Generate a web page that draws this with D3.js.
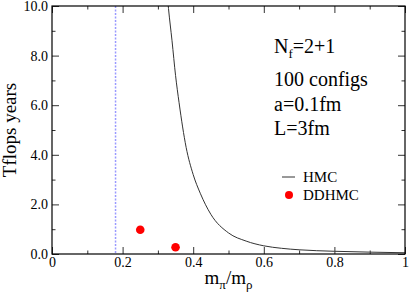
<!DOCTYPE html>
<html>
<head>
    <script src="https://cdn.jsdelivr.net/npm/d3@7"></script>
    <style>
        body { margin: 0; background: #fff; }
        text { font-family: 'Liberation Serif', 'Times New Roman', serif; fill: #000; }
    </style>
</head>
<body>
<div id="vis"></div>
<script>
    /* Data */
    var hmcX = [0.322, 0.33, 0.34, 0.35, 0.36, 0.38, 0.40, 0.42, 0.45, 0.50, 0.55, 0.60, 0.65, 0.70, 0.80, 0.90, 1.00];
    var hmcY = [11.2, 9.9, 8.6, 7.2, 6.1, 4.3, 3.2, 2.45, 1.6, 0.85, 0.52, 0.33, 0.23, 0.17, 0.11, 0.075, 0.05];
    var ddX = [0.25, 0.35];
    var ddY = [0.98, 0.27];
    var physX = 0.18;
    var xMajor = [0, 0.2, 0.4, 0.6, 0.8, 1];
    var xMinor = [0.1, 0.3, 0.5, 0.7, 0.9];
    var xLabels = ["0", "0.2", "0.4", "0.6", "0.8", "1"];
    var yMajor = [0, 2, 4, 6, 8, 10];
    var yMinor = [1, 3, 5, 7, 9];
    var yLabels = ["0.0", "2.0", "4.0", "6.0", "8.0", "10.0"];
    var infoLines = ["100 configs", "a=0.1fm", "L=3fm"];
    var legendNames = ["HMC", "DDHMC"];

    /* Layout */
    var W = 409, H = 297;
    var pL = 52, pR = 405, pT = 6, pB = 254;

    var svg = d3.select("#vis").append("svg")
        .attr("width", W).attr("height", H);

    var x = d3.scaleLinear().domain([0, 1]).range([pL, pR]);
    var y = d3.scaleLinear().domain([0, 10]).range([pB, pT]);

    svg.append("clipPath").attr("id", "clip")
        .append("rect").attr("x", pL).attr("y", pT)
        .attr("width", pR - pL).attr("height", pB - pT);

    // axes: major ticks with labels, minor ticks, mirrored on top/right
    function styleAxis(g) {
        g.attr("font-family", "Liberation Serif").attr("font-size", 14);
        g.select(".domain").remove();
        g.selectAll("line").attr("stroke", "#333").attr("stroke-width", 1);
    }

    svg.append("g").attr("transform", "translate(0," + pB + ")")
        .call(d3.axisBottom(x).tickValues(xMajor).tickSize(-7).tickPadding(3)
            .tickFormat(function (d, i) { return xLabels[i]; }))
        .call(styleAxis);
    svg.append("g").attr("transform", "translate(0," + pB + ")")
        .call(d3.axisBottom(x).tickValues(xMinor).tickSize(-3.5).tickFormat(""))
        .call(styleAxis);
    svg.append("g").attr("transform", "translate(0," + pT + ")")
        .call(d3.axisTop(x).tickValues(xMajor).tickSize(-7).tickFormat(""))
        .call(styleAxis);
    svg.append("g").attr("transform", "translate(0," + pT + ")")
        .call(d3.axisTop(x).tickValues(xMinor).tickSize(-3.5).tickFormat(""))
        .call(styleAxis);

    svg.append("g").attr("transform", "translate(" + pL + ",0)")
        .call(d3.axisLeft(y).tickValues(yMajor).tickSize(-7).tickPadding(4)
            .tickFormat(function (d, i) { return yLabels[i]; }))
        .call(styleAxis);
    svg.append("g").attr("transform", "translate(" + pL + ",0)")
        .call(d3.axisLeft(y).tickValues(yMinor).tickSize(-3.5).tickFormat(""))
        .call(styleAxis);
    svg.append("g").attr("transform", "translate(" + pR + ",0)")
        .call(d3.axisRight(y).tickValues(yMajor).tickSize(-7).tickFormat(""))
        .call(styleAxis);
    svg.append("g").attr("transform", "translate(" + pR + ",0)")
        .call(d3.axisRight(y).tickValues(yMinor).tickSize(-3.5).tickFormat(""))
        .call(styleAxis);

    // physical point, dashed
    svg.append("line")
        .attr("x1", x(physX)).attr("x2", x(physX))
        .attr("y1", y(10)).attr("y2", y(0))
        .attr("stroke", "#9a9aff").attr("stroke-width", 1.5)
        .attr("stroke-dasharray", "2,1.5");

    // HMC cost curve
    var hmc = hmcX.map(function (d, i) { return [d, hmcY[i]]; });
    svg.append("path")
        .datum(hmc)
        .attr("clip-path", "url(#clip)")
        .attr("fill", "none")
        .attr("stroke", "#333")
        .attr("stroke-width", 1)
        .attr("d", d3.line()
            .x(function (d) { return x(d[0]); })
            .y(function (d) { return y(d[1]); })
            .curve(d3.curveMonotoneX));

    // DDHMC points
    svg.selectAll(".dd")
        .data(ddX)
        .enter().append("circle")
        .attr("cx", function (d) { return x(d); })
        .attr("cy", function (d, i) { return y(ddY[i]); })
        .attr("r", 4.3)
        .attr("fill", "#ff0000");

    // frame
    svg.append("rect")
        .attr("x", pL).attr("y", pT)
        .attr("width", pR - pL).attr("height", pB - pT)
        .attr("fill", "none").attr("stroke", "#000").attr("stroke-width", 1.2);

    // axis titles
    svg.append("text")
        .attr("transform", "translate(16," + ((pT + pB) / 2) + ") rotate(-90)")
        .attr("text-anchor", "middle")
        .style("font-size", "19px")
        .text("Tflops years");

    var xt = svg.append("text")
        .attr("x", (pL + pR) / 2).attr("y", 284)
        .attr("text-anchor", "middle")
        .style("font-size", "19px");
    xt.append("tspan").text("m");
    xt.append("tspan").attr("dy", 5).style("font-size", "13px").text("π");
    xt.append("tspan").attr("dy", -5).text("/m");
    xt.append("tspan").attr("dy", 5).style("font-size", "13px").text("ρ");

    // parameters text
    var nf = svg.append("text").attr("x", 274).attr("y", 53).style("font-size", "20px");
    nf.append("tspan").text("N");
    nf.append("tspan").attr("dy", 5).style("font-size", "13px").text("f");
    nf.append("tspan").attr("dy", -5).text("=2+1");

    svg.selectAll(".info")
        .data(infoLines)
        .enter().append("text")
        .attr("x", 274)
        .attr("y", function (d, i) { return 86 + i * 24.5; })
        .style("font-size", "20px")
        .text(function (d) { return d; });

    // legend
    svg.append("line")
        .attr("x1", 282).attr("x2", 295).attr("y1", 177).attr("y2", 177)
        .attr("stroke", "#333").attr("stroke-width", 1);
    svg.append("circle")
        .attr("cx", 289).attr("cy", 195).attr("r", 4)
        .attr("fill", "#ff0000");
    svg.selectAll(".leg")
        .data(legendNames)
        .enter().append("text")
        .attr("x", 303)
        .attr("y", function (d, i) { return 182 + i * 17.5; })
        .style("font-size", "15px")
        .text(function (d) { return d; });
</script>
</body>
</html>
